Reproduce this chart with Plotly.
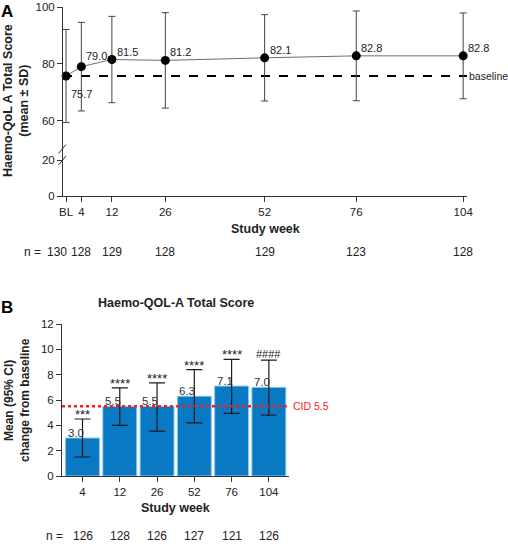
import plotly.graph_objects as go

W, H = 508, 544


def px(x):
    return x / W


def py(y):
    return 1 - y / H


FONT = "Liberation Sans, Arial, sans-serif"
TXT = "#222222"

# ---------------- Panel A data ----------------
weeks_a = [0, 4, 12, 26, 52, 76, 104]
week_labels_a = ["BL", "4", "12", "26", "52", "76", "104"]
mean_a = [75.7, 79.0, 81.5, 81.2, 82.1, 82.8, 82.8]
sd_a = [16.4, 15.6, 15.2, 16.8, 15.2, 15.8, 15.1]
n_a = [130, 128, 129, 128, 129, 123, 128]
baseline_value = 75.7

# ---------------- Panel B data ----------------
weeks_b = ["4", "12", "26", "52", "76", "104"]
mean_b = [3.0, 5.5, 5.5, 6.3, 7.1, 7.0]
ci_low_b = [1.5, 4.0, 3.55, 4.2, 4.95, 4.8]
ci_high_b = [4.5, 6.95, 7.35, 8.4, 9.2, 9.15]
sig_b = ["***", "****", "****", "****", "****", "####"]
n_b = [126, 128, 126, 127, 121, 126]
cid_value = 5.5

fig = go.Figure()

# Panel A: empty trace on lower (broken) axis so it is drawn
fig.add_trace(go.Scatter(x=[], y=[], xaxis="x", yaxis="y", showlegend=False,
                         hoverinfo="skip"))
# Panel A: mean +/- SD
fig.add_trace(go.Scatter(
    x=weeks_a, y=mean_a, xaxis="x", yaxis="y2", mode="lines+markers",
    line=dict(color="#6e6e6e", width=1),
    marker=dict(color="black", size=9),
    error_y=dict(type="data", array=sd_a, symmetric=True, color="#444444",
                 thickness=1, width=3.5),
    showlegend=False, hoverinfo="skip", cliponaxis=False))

# Panel B: bars with 95% CI
fig.add_trace(go.Bar(
    x=weeks_b, y=mean_b, xaxis="x2", yaxis="y3", width=0.91,
    marker=dict(color="#0879C2", line=dict(color="#8CC8EC", width=1)),
    error_y=dict(type="data", symmetric=False,
                 array=[h - m for h, m in zip(ci_high_b, mean_b)],
                 arrayminus=[m - l for m, l in zip(mean_b, ci_low_b)],
                 color="#1a1a1a", thickness=1.2, width=8),
    showlegend=False, hoverinfo="skip"))

axis_common = dict(showline=True, linecolor="#333333", linewidth=1,
                   ticks="outside", ticklen=5, tickcolor="#333333",
                   tickfont=dict(family=FONT, size=11.5, color=TXT),
                   showgrid=False, zeroline=False, fixedrange=True,
                   automargin=False)

fig.update_layout(
    width=W, height=H, autosize=False,
    margin=dict(l=0, r=0, t=0, b=0, pad=0),
    paper_bgcolor="white", plot_bgcolor="white",
    font=dict(family=FONT, color=TXT),
    bargap=0.09,
    xaxis=dict(domain=[px(63), px(467)], range=[-0.8, 105], anchor="y",
               tickmode="array", tickvals=weeks_a, ticktext=week_labels_a,
               **axis_common),
    yaxis=dict(domain=[py(196), py(160)], range=[0, 20], anchor="x",
               tickmode="array", tickvals=[0, 20], **axis_common),
    yaxis2=dict(domain=[py(149), py(7)], range=[50, 100], anchor="x",
                tickmode="array", tickvals=[60, 80, 100], **axis_common),
    xaxis2=dict(domain=[px(62), px(289)], range=[-0.55, 5.54], anchor="y3",
                type="category", **axis_common),
    yaxis3=dict(domain=[py(476), py(324)], range=[0, 12], anchor="x2",
                tickmode="linear", tick0=0, dtick=2, **axis_common),
)

shapes = []
# connecting axis segment between the two y-axis parts and break marks
shapes.append(dict(type="line", xref="paper", yref="paper",
                   x0=px(62.5), x1=px(62.5), y0=py(160), y1=py(149),
                   line=dict(color="#333333", width=1)))
for yc in (149, 160.5):
    shapes.append(dict(type="line", xref="paper", yref="paper",
                       x0=px(58.5), x1=px(66), y0=py(yc + 4.5), y1=py(yc - 4.5),
                       line=dict(color="#333333", width=1)))
# baseline dashed line
shapes.append(dict(type="line", xref="x domain", yref="y2", x0=0, x1=1,
                   y0=baseline_value, y1=baseline_value,
                   line=dict(color="black", width=1.8, dash="dash"), layer="below"))
# CID dotted line
shapes.append(dict(type="line", xref="x2 domain", yref="y3", x0=0, x1=0.99,
                   y0=cid_value, y1=cid_value,
                   line=dict(color="#ff1a1a", width=2.5, dash="dot"), layer="above"))
fig.update_layout(shapes=shapes)

ann = []
f12 = dict(family=FONT, size=12, color=TXT)
f11 = dict(family=FONT, size=11, color=TXT)


def paper_text(xp, yp, text, font, **kw):
    d = dict(x=px(xp), y=py(yp), xref="paper", yref="paper", text=text,
             showarrow=False, xanchor="center", yanchor="middle", font=font)
    d.update(kw)
    return d


# Panel A value labels
for i, (w, m) in enumerate(zip(weeks_a, mean_a)):
    if i == 0:
        ys = -18
    elif i == 1:
        ys = 11
    else:
        ys = 8
    ann.append(dict(x=w, y=m, xref="x", yref="y2", text=f"{m:.1f}",
                    showarrow=False, xanchor="left", yanchor="middle",
                    xshift=3, yshift=ys, font=f11))
ann.append(dict(x=1, y=baseline_value, xref="x domain", yref="y2", text="baseline",
                showarrow=False, xanchor="left", yanchor="middle", xshift=0,
                font=dict(family=FONT, size=10.5, color=TXT)))
# Panel A titles
ann.append(paper_text(16, 101,
                      "<b>Haemo-QoL A Total Score</b><br><b>(mean ± SD)</b>",
                      dict(family=FONT, size=12.5, color=TXT), textangle=-90))
ann.append(dict(x=0.5, y=py(229), xref="x domain", yref="paper",
                text="<b>Study week</b>", showarrow=False, xanchor="center",
                yanchor="middle", font=dict(family=FONT, size=12.5, color=TXT)))
ann.append(paper_text(32, 252, "n =", f12))
for i, (w, n) in enumerate(zip(weeks_a, n_a)):
    ann.append(dict(x=w, y=py(252), xref="x", yref="paper", text=str(n),
                    showarrow=False, xanchor="center", yanchor="middle", font=f12,
                    xshift=-9 if i == 0 else 0))
ann.append(paper_text(7, 11, "<b>A</b>", dict(family=FONT, size=17, color="black")))

# Panel B labels
for i, (m, hi, s) in enumerate(zip(mean_b, ci_high_b, sig_b)):
    ann.append(dict(x=i - 0.455, y=m, xref="x2", yref="y3", text=f"{m:.1f}",
                    showarrow=False, xanchor="left", yanchor="bottom", yshift=-3,
                    font=dict(family=FONT, size=11.5, color="#333333")))
    is_hash = s.startswith("#")
    ann.append(dict(x=i, y=hi, xref="x2", yref="y3", text=s,
                    showarrow=False, xanchor="center", yanchor="bottom",
                    yshift=-2 if is_hash else -5,
                    font=dict(family=FONT, size=11 if is_hash else 13, color=TXT)))
ann.append(dict(x=1, y=cid_value, xref="x2 domain", yref="y3", text="CID 5.5",
                showarrow=False, xanchor="left", yanchor="middle", xshift=2,
                font=dict(family=FONT, size=10.5, color="#ff1a1a")))
ann.append(dict(x=0.5, y=py(303), xref="x2 domain", yref="paper",
                text="<b>Haemo-QOL-A Total Score</b>", showarrow=False,
                xanchor="center", yanchor="middle",
                font=dict(family=FONT, size=12.5, color=TXT)))
ann.append(paper_text(17, 400, "<b>Mean (95% CI)</b><br><b>change from baseline</b>",
                      dict(family=FONT, size=12, color=TXT), textangle=-90))
ann.append(dict(x=0.5, y=py(508), xref="x2 domain", yref="paper",
                text="<b>Study week</b>", showarrow=False, xanchor="center",
                yanchor="middle", font=dict(family=FONT, size=12.5, color=TXT)))
ann.append(paper_text(54, 536, "n =", f12))
for i, n in enumerate(n_b):
    ann.append(dict(x=i, y=py(536), xref="x2", yref="paper", text=str(n),
                    showarrow=False, xanchor="center", yanchor="middle", font=f12))
ann.append(paper_text(7, 307, "<b>B</b>", dict(family=FONT, size=17, color="black")))

fig.update_layout(annotations=ann)

# remove the default 8px page margin so the figure fills the window exactly
fig.write_html("out.html",
               config={"displayModeBar": False, "staticPlot": True},
               post_script="document.body.style.margin='0';"
                           "document.body.style.overflow='hidden';")
